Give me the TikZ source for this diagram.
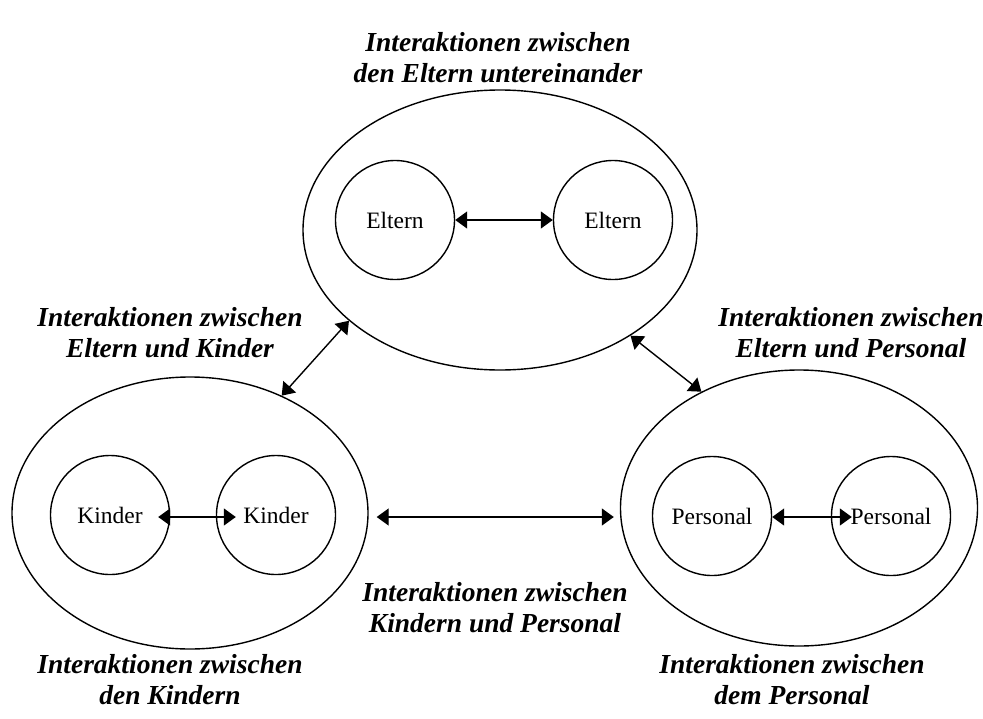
\documentclass[tikz,border=0pt]{standalone}
\usepackage{fontspec}
\setmainfont{Liberation Serif}
\usetikzlibrary{shapes.geometric,arrows.meta}

\begin{document}
\begin{tikzpicture}[x=1pt,y=-1pt,
        group/.style={draw,ellipse,line width=1.4pt,inner sep=0pt},
        member/.style={draw,circle,line width=1.4pt,minimum size=119pt,inner sep=0pt,font=\fontsize{23.5}{28}\selectfont},
        caption/.style={align=center,font=\fontsize{27.5}{31}\selectfont\bfseries\itshape},
        link/.style={{Triangle[length=12pt,width=17pt]}-{Triangle[length=12pt,width=17pt]},line width=1.4pt}]
        \useasboundingbox (0,0) rectangle (983,718);

        % the three groups
        \node[group,minimum width=394pt,minimum height=280pt] (parents) at (500,230) {};
        \node[group,minimum width=356pt,minimum height=272pt] (kids) at (190,513) {};
        \node[group,minimum width=357pt,minimum height=276pt] (staff) at (799,508) {};

        \node[member] (p1) at (395,220) {Eltern};
        \node[member] (p2) at (613,220) {Eltern};
        \node[member] (k1) at (110,515) {Kinder};
        \node[member] (k2) at (276,515) {Kinder};
        \node[member] (s1) at (712,516) {Personal};
        \node[member] (s2) at (891,516) {Personal};

        % inside the groups
        \draw[link] (p1.east) -- (p2.west);
        \draw[link] ([shift={(-12,2)}]k1.east) -- ([shift={(20,2)}]k2.west);
        \draw[link] ([shift={(0,1)}]s1.east) -- ([shift={(21,1)}]s2.west);

        % between the groups
        \draw[link] (parents.211) -- (kids.52);
        \draw[link] (parents.321) -- (staff.130);
        \draw[link] ([shift={(8,4)}]kids.east) -- ([shift={(-6,9)}]staff.west);

        \node[caption] (c-parents) at (498,58) {Interaktionen zwischen\\den Eltern untereinander};
        \node[caption] (c-pk) at (170,333) {Interaktionen zwischen\\Eltern und Kinder};
        \node[caption] (c-ps) at (851,333) {Interaktionen zwischen\\Eltern und Personal};
        \node[caption] (c-ks) at (495,608) {Interaktionen zwischen\\Kindern und Personal};
        \node[caption] (c-kids) at (170,680) {Interaktionen zwischen\\den Kindern};
        \node[caption] (c-staff) at (792,680) {Interaktionen zwischen\\dem Personal};
    \end{tikzpicture}
\end{document}
